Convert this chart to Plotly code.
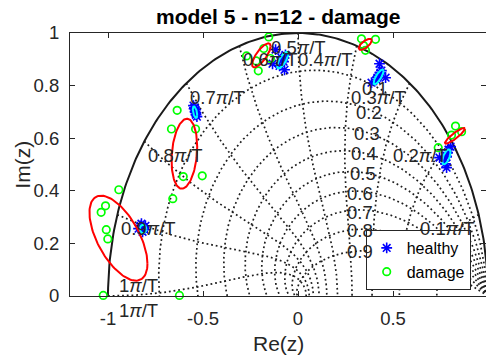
import numpy as np
import plotly.graph_objects as go

# z-plane grid definition: damping ratios and natural frequencies (x pi/T)
zeta_levels = [0.1, 0.2, 0.3, 0.4, 0.5, 0.6, 0.7, 0.8, 0.9]
wn_levels = [0.1, 0.2, 0.3, 0.4, 0.5, 0.6, 0.7, 0.8, 0.9, 1.0]

# where the damping-ratio labels sit (Re, Im)
zeta_label_re = [0.403, 0.374, 0.363, 0.345, 0.340, 0.324, 0.324, 0.324, 0.324]
zeta_label_im = [0.790, 0.699, 0.617, 0.541, 0.465, 0.391, 0.319, 0.248, 0.168]

# identified poles, healthy structure
healthy_re = [-0.829, -0.808, -0.818, -0.839, -0.803, -0.824, -0.813, -0.818,
              -0.550, -0.547, -0.542, -0.537, -0.532, -0.545, -0.537, -0.539,
              -0.118, -0.134, -0.071, -0.087, -0.076, -0.097, -0.066, -0.082,
              0.429, 0.387, 0.461, 0.424, 0.434, 0.413, 0.418, 0.439,
              0.803, 0.745, 0.782, 0.782, 0.787, 0.771, 0.792, 0.776]
healthy_im = [0.267, 0.252, 0.244, 0.256, 0.267, 0.275, 0.260, 0.256,
              0.724, 0.712, 0.701, 0.689, 0.682, 0.716, 0.697, 0.708,
              0.937, 0.883, 0.860, 0.906, 0.891, 0.875, 0.917, 0.898,
              0.883, 0.811, 0.830, 0.838, 0.849, 0.822, 0.830, 0.857,
              0.568, 0.526, 0.488, 0.529, 0.545, 0.514, 0.556, 0.503]

# identified poles, damaged structure
damage_re = [-0.943, -1.013, -1.036, -1.009, -1.001, -1.025, -0.624, -0.659,
             -0.636, -0.666, -0.539, -0.604, -0.504,
             -0.154, -0.271, -0.180, -0.145, -0.220, -0.209,
             0.334, 0.408, 0.355, 0.345,
             0.829, 0.861, 0.738, 0.808]
damage_im = [0.404, 0.343, 0.318, 0.252, 0.217, 0.002, 0.002, 0.370,
             0.706, 0.635, 0.635, 0.454, 0.457,
             0.985, 0.913, 0.941, 0.903, 0.894, 0.856,
             0.978, 0.976, 0.934, 0.952,
             0.646, 0.625, 0.564, 0.612]

# confidence ellipses per mode: centre, std devs and correlation
healthy_ell_cx = [-0.815, -0.542, -0.0805, 0.424, 0.781]
healthy_ell_cy = [0.255, 0.699, 0.897, 0.833, 0.529]
healthy_ell_sx = [0.0174, 0.0116, 0.029, 0.0263, 0.0218]
healthy_ell_sy = [0.016, 0.022, 0.0317, 0.0285, 0.0285]
healthy_ell_rho = [0.0, -0.5, 0.75, 0.8, 0.6]

damage_ell_cx = [-0.945, -0.598, -0.193, 0.354, 0.826]
damage_ell_cy = [0.220, 0.541, 0.915, 0.957, 0.609]
damage_ell_sx = [0.1526, 0.0675, 0.0487, 0.0342, 0.0526]
damage_ell_sy = [0.1616, 0.133, 0.0456, 0.0209, 0.0297]
damage_ell_rho = [-0.6, 0.2, 0.76, 0.7, 0.9]

FONT = "Liberation Sans, Arial, sans-serif"
TXT = "#262626"
GRID_DASH = "1.8px,2.9px"

fig = go.Figure()

# constant damping-ratio spirals, z = exp(theta * (-tan(asin(zeta)) + j))
theta = np.linspace(0, np.pi, 200)
for z in zeta_levels:
    m = np.tan(np.arcsin(z))
    zz = np.exp(theta * (-m + 1j))
    fig.add_trace(go.Scatter(x=zz.real, y=zz.imag, mode="lines",
                             line=dict(color="#1e1e1e", width=1.7, dash=GRID_DASH),
                             hoverinfo="skip", showlegend=False))

# constant natural-frequency curves
phi = np.linspace(np.pi / 2, np.pi, 200)
for w in wn_levels:
    s = w * np.pi * np.exp(1j * phi)
    zz = np.exp(s)
    fig.add_trace(go.Scatter(x=zz.real, y=zz.imag, mode="lines",
                             line=dict(color="#1e1e1e", width=1.7, dash=GRID_DASH),
                             hoverinfo="skip", showlegend=False))

# unit circle
uc = np.exp(1j * theta)
fig.add_trace(go.Scatter(x=uc.real, y=uc.imag, mode="lines",
                         line=dict(color="#1a1a1a", width=2),
                         hoverinfo="skip", showlegend=False))

fig.add_trace(go.Scatter(x=healthy_re, y=healthy_im, mode="markers", name="healthy",
                         marker=dict(symbol="asterisk-open", size=9, color="#0000ff",
                                     line=dict(color="#0000ff", width=1.6)),
                         cliponaxis=False))
fig.add_trace(go.Scatter(x=damage_re, y=damage_im, mode="markers", name="damage",
                         marker=dict(symbol="circle-open", size=7.5, color="#00ff00",
                                     line=dict(color="#00ff00", width=1.7)),
                         cliponaxis=False))


def ellipse(cx, cy, sx, sy, rho):
    t = np.linspace(0, 2 * np.pi, 120)
    ex = cx + sx * np.cos(t)
    ey = cy + sy * (rho * np.cos(t) + np.sqrt(1 - rho ** 2) * np.sin(t))
    return ex, ey


for i in range(len(healthy_ell_cx)):
    ex, ey = ellipse(healthy_ell_cx[i], healthy_ell_cy[i], healthy_ell_sx[i],
                     healthy_ell_sy[i], healthy_ell_rho[i])
    fig.add_trace(go.Scatter(x=ex, y=ey, mode="lines", line=dict(color="#00ffff", width=2),
                             hoverinfo="skip", showlegend=False))
for i in range(len(damage_ell_cx)):
    ex, ey = ellipse(damage_ell_cx[i], damage_ell_cy[i], damage_ell_sx[i],
                     damage_ell_sy[i], damage_ell_rho[i])
    fig.add_trace(go.Scatter(x=ex, y=ey, mode="lines", line=dict(color="#ff0000", width=2),
                             hoverinfo="skip", showlegend=False))

# invisible trace carrying the right-hand tick axis
fig.add_trace(go.Scatter(x=[None], y=[None], yaxis="y2", showlegend=False, hoverinfo="skip"))

annotations = []
lab_font = dict(family=FONT, size=18.5, color=TXT)
for z, lx, ly in zip(zeta_levels, zeta_label_re, zeta_label_im):
    annotations.append(dict(x=lx, y=ly, xref="x", yref="y", text=f"{z:g}", showarrow=False,
                            xanchor="center", yanchor="middle", font=lab_font))
for w in wn_levels:
    a = w * np.pi
    px, py = np.cos(a), np.sin(a)
    txt = f"{w:g}<i>π</i>/T"
    if w == 1.0:
        for ys in (11, -14):
            annotations.append(dict(x=px, y=py, xref="x", yref="y", text=txt, showarrow=False,
                                    xanchor="left", yanchor="middle", xshift=8.5, yshift=ys,
                                    font=lab_font))
        continue
    if w < 0.5:
        xa, xs = "right", -2
    elif w == 0.5:
        xa, xs = "center", 0
    else:
        xa, xs = "left", 2
    annotations.append(dict(x=px, y=py, xref="x", yref="y", text=txt, showarrow=False,
                            xanchor=xa, yanchor="middle", xshift=xs, yshift=-14,
                            font=lab_font))

annotations.append(dict(x=0.5, y=1.062, xref="paper", yref="paper", showarrow=False,
                        text="<b>model 5 - n=12 - damage</b>", xanchor="center",
                        yanchor="middle", font=dict(family=FONT, size=21, color="#000000")))
annotations.append(dict(x=0.5, y=-0.18, xref="paper", yref="paper", showarrow=False,
                        text="Re(z)", xanchor="center", yanchor="middle",
                        font=dict(family=FONT, size=21, color=TXT)))
annotations.append(dict(x=-0.115, y=0.5, xref="paper", yref="paper", showarrow=False,
                        text="Im(z)", textangle=-90, xanchor="center", yanchor="middle",
                        font=dict(family=FONT, size=21, color=TXT)))

x_ticks = [-1, -0.5, 0, 0.5]
y_ticks = [0, 0.2, 0.4, 0.6, 0.8, 1]

fig.update_layout(
    width=486, height=359,
    margin=dict(l=70, r=0, t=33, b=63),
    paper_bgcolor="white", plot_bgcolor="white",
    font=dict(family=FONT, color=TXT),
    xaxis=dict(range=[-1.2, -1.2 + 416 / 190], tickvals=x_ticks,
               ticktext=[f"{v:g}" for v in x_ticks],
               ticks="inside", ticklen=5, tickwidth=1, tickcolor=TXT,
               showline=True, linecolor=TXT, linewidth=1, mirror="ticks",
               showgrid=False, zeroline=False, ticklabelstandoff=6,
               tickfont=dict(family=FONT, size=18.5, color=TXT)),
    yaxis=dict(range=[0, 1], tickvals=y_ticks, ticktext=[f"{v:g}" for v in y_ticks],
               ticks="inside", ticklen=5, tickwidth=1, tickcolor=TXT,
               showline=True, linecolor=TXT, linewidth=1, mirror=False,
               showgrid=False, zeroline=False, ticklabelstandoff=6,
               tickfont=dict(family=FONT, size=18.5, color=TXT)),
    yaxis2=dict(range=[0, 1], overlaying="y", side="right", anchor="x",
                tickvals=y_ticks, ticks="inside", ticklen=5, tickwidth=1, tickcolor=TXT,
                showticklabels=False, showline=False, showgrid=False, zeroline=False),
    legend=dict(x=(365.7 - 70) / 416, y=(296 - 230) / 263, xanchor="left", yanchor="top",
                bgcolor="white", bordercolor=TXT, borderwidth=1,
                font=dict(family=FONT, size=16, color="#000000")),
    annotations=annotations,
)

fig.write_html("out.html")
